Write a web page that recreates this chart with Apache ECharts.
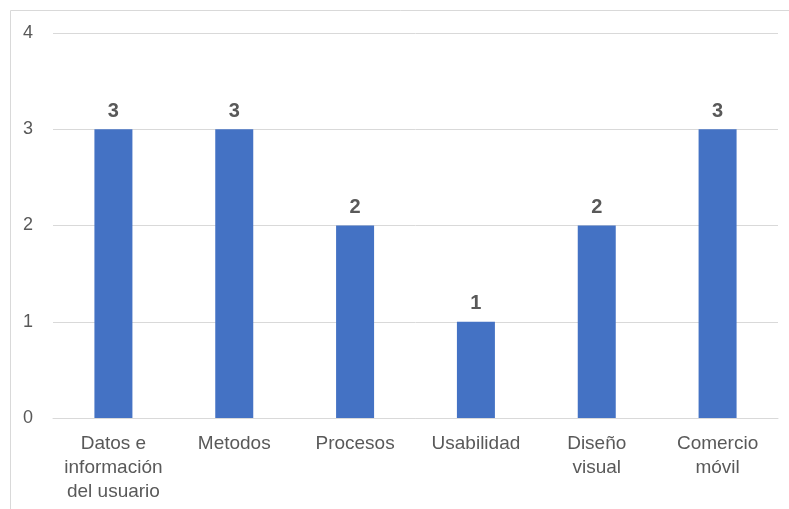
<!DOCTYPE html>
<html>
<head>
<meta charset="utf-8">
<script src="https://cdn.jsdelivr.net/npm/echarts@6/dist/echarts.min.js"></script>
<style>
  html, body { margin: 0; padding: 0; background: #fff; }
  #bar-chart { width: 789px; height: 509px; }
</style>
</head>
<body>
<div id="bar-chart"></div>
<script>
// categorias y valores
var categories = ["Datos e\ninformación\ndel usuario", "Metodos", "Procesos", "Usabilidad", "Diseño\nvisual", "Comercio\nmóvil"];
var values = [3, 3, 2, 1, 2, 3];
var yTicks = [0, 1, 2, 3, 4];

var myChart = echarts.init(document.getElementById("bar-chart"));

var options = {
  animation: false,
  // marco del grafico (solo borde superior e izquierdo visibles)
  graphic: [{
    type: "rect",
    shape: { x: 10.5, y: 10.5, width: 900, height: 600 },
    style: { fill: "none", stroke: "#d9d9d9", lineWidth: 1 },
    silent: true
  }],
  grid: {
    left: 53,
    right: 11,
    top: 33,
    bottom: 91
  },
  xAxis: {
    type: "category",
    data: categories,
    axisLine: { lineStyle: { color: "#d9d9d9" } },
    axisTick: { show: false },
    axisLabel: {
      color: "#595959",
      fontFamily: "Liberation Sans, Arial, sans-serif",
      fontSize: 19,
      lineHeight: 24,
      margin: 14,
      interval: 0
    }
  },
  yAxis: {
    type: "value",
    min: yTicks[0],
    max: yTicks[yTicks.length - 1],
    interval: 1,
    axisLine: { show: false },
    axisTick: { show: false },
    splitLine: { lineStyle: { color: "#d9d9d9", width: 1 } },
    axisLabel: {
      color: "#595959",
      fontFamily: "Liberation Sans, Arial, sans-serif",
      fontSize: 18,
      margin: 20
    }
  },
  series: [{
    type: "bar",
    data: values,
    barWidth: 38,
    itemStyle: { color: "#4472C4" },
    label: {
      show: true,
      position: "top",
      distance: 8,
      color: "#595959",
      fontFamily: "Liberation Sans, Arial, sans-serif",
      fontSize: 20,
      fontWeight: "bold"
    }
  }]
};

myChart.setOption(options);
</script>
</body>
</html>
